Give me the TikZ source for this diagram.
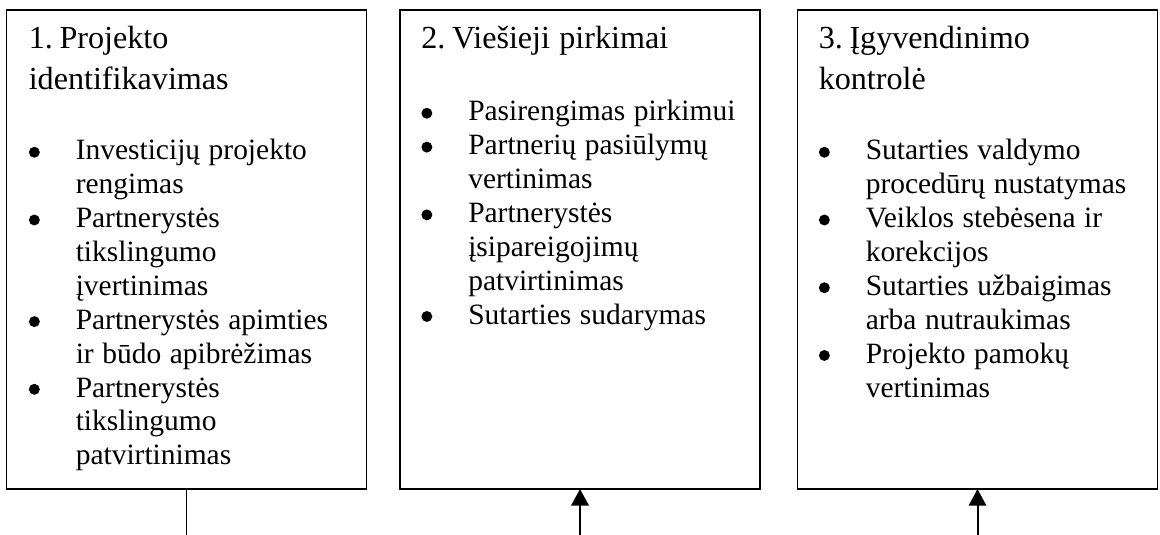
\documentclass[tikz,border=0pt]{standalone}
\usepackage{fontspec}
\setmainfont{Liberation Serif}
\usetikzlibrary{arrows.meta}
\newlength\hangw \setlength\hangw{35.25pt}
\newcommand\ttlfont{\fontsize{24.1pt}{30.75pt}\selectfont\spaceskip=0.29em plus 0.1em minus 0.02em\relax}
\newcommand\bulfont{\fontsize{22.1pt}{25.4pt}\selectfont\spaceskip=0.29em plus 0.1em minus 0.02em\relax}
\newcommand\bulmark{\hspace*{0.1pt}\tikz[baseline=0pt]\fill[black] (4.1pt,5.8pt) circle[radius=4.1pt];}
\newcommand\itm[1]{\par\noindent\hangindent=\hangw\hangafter=1\makebox[\hangw][l]{\bulmark}#1\par}
\tikzset{
  stagebox/.style={draw=black, line width=1.1pt, minimum width=270pt, minimum height=359.25pt, inner sep=0pt, outer sep=0pt},
  stagetext/.style={anchor=base west, inner sep=0pt, text width=260pt, align=left},
  plainline/.style={draw=black, line width=1.3pt},
  uparrow/.style={draw=black, -{Triangle[width=13pt,length=12.5pt]}},
}
\begin{document}
\begin{tikzpicture}[x=0.75pt,y=-0.75pt]
\useasboundingbox (0,0) rectangle (1160,535);
\node[stagebox] (b1) at (186.5,249.5) {};
\node[stagebox] (b2) at (580,249.5) {};
\node[stagebox] (b3) at (977.5,249.5) {};
\node[stagetext] (t1) at ([shift={(22,39)}]b1.north west) {\ttlfont 1. Projekto\\identifikavimas\par\bulfont\vspace{27.1pt}%
\itm{Investicijų projekto\newline rengimas}%
\itm{Partnerystės\newline tikslingumo\newline įvertinimas}%
\itm{Partnerystės apimties\newline ir būdo apibrėžimas}%
\itm{Partnerystės\newline tikslingumo\newline patvirtinimas}};
\node[stagetext] (t2) at ([shift={(21,39)}]b2.north west) {\ttlfont 2. Viešieji pirkimai\par\bulfont\vspace{28.6pt}%
\itm{Pasirengimas pirkimui}%
\itm{Partnerių pasiūlymų\newline vertinimas}%
\itm{Partnerystės\newline įsipareigojimų\newline patvirtinimas}%
\itm{Sutarties sudarymas}};
\node[stagetext] (t3) at ([shift={(21,39)}]b3.north west) {\ttlfont 3. Įgyvendinimo\\kontrolė\par\bulfont\vspace{27.1pt}%
\itm{Sutarties valdymo\newline procedūrų nustatymas}%
\itm{Veiklos stebėsena ir\newline korekcijos}%
\itm{Sutarties užbaigimas\newline arba nutraukimas}%
\itm{Projekto pamokų\newline vertinimas}};
\coordinate (e1) at (186.5,535);
\coordinate (e2) at (580,535);
\coordinate (e3) at (977.5,535);
\draw[plainline] (b1.south) -- (e1);
\draw[uparrow, line width=2.2pt] (e2) -- (b2.south);
\draw[uparrow, line width=1.5pt] (e3) -- (b3.south);
\end{tikzpicture}
\end{document}
